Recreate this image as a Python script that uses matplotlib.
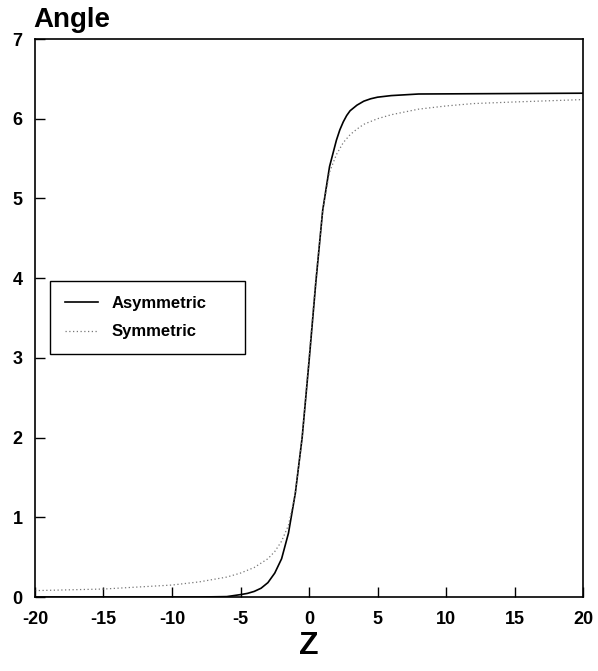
import numpy as np
from matplotlib import pyplot as plt

plt.rcParams['font.family'] = ['Liberation Sans', 'DejaVu Sans']
plt.rcParams['font.weight'] = 'bold'
plt.rcParams['axes.unicode_minus'] = False

# values
z_asym = [-20, -8, -6, -5, -4.5, -4, -3.5, -3, -2.5, -2, -1.5, -1, -0.5, 0,
          0.5, 1, 1.5, 2, 2.25, 2.5, 2.75, 3, 3.5, 4, 4.5, 5, 6, 8, 20]
angle_asym = [0.0, 0.0, 0.005, 0.03, 0.045, 0.07, 0.11, 0.18, 0.3, 0.48, 0.8, 1.3, 2.0, 2.95,
              3.95, 4.85, 5.4, 5.73, 5.86, 5.96, 6.04, 6.1, 6.17, 6.22, 6.25, 6.27, 6.29, 6.31, 6.32]

z_sym = [-20, -15, -10, -8, -6, -5, -4, -3, -2.5, -2, -1.5, -1, -0.5, 0,
         0.5, 1, 1.5, 2, 2.5, 3, 3.5, 4, 5, 6, 8, 10, 12, 15, 20]
angle_sym = [0.08, 0.1, 0.15, 0.19, 0.25, 0.3, 0.37, 0.48, 0.57, 0.7, 0.9, 1.3, 2.0, 3.0,
             4.0, 4.85, 5.33, 5.55, 5.7, 5.8, 5.87, 5.93, 6.0, 6.05, 6.12, 6.16, 6.19, 6.21, 6.24]

xticks = [-20, -15, -10, -5, 0, 5, 10, 15, 20]
yticks = [0, 1, 2, 3, 4, 5, 6, 7]

fig = plt.figure(figsize=(5.98, 6.71), dpi=100)
ax = fig.add_axes([35 / 598, 1 - 597 / 671, 548 / 598, 558 / 671])

ax.plot(z_asym, angle_asym, color='black', lw=1.2, label='Asymmetric')
ax.plot(z_sym, angle_sym, color='#777777', lw=0.9, ls=(0, (1, 2)), label='Symmetric')

ax.set_xlim(-20, 20)
ax.set_ylim(0, 7)
ax.set_xticks(xticks)
ax.set_yticks(yticks)
ax.tick_params(direction='in', length=7, width=1, labelsize=13)
ax.tick_params(axis='x', pad=10)
ax.tick_params(axis='y', pad=9)
for s in ax.spines.values():
    s.set_linewidth(1.2)

fig.text(33 / 598, 1 - 27 / 671, 'Angle', fontsize=20, fontweight='bold', ha='left', va='baseline')
ax.set_xlabel('Z', fontsize=23, fontweight='bold', labelpad=2)

leg = ax.legend(loc='upper left', bbox_to_anchor=(15 / 548, 316 / 558, 195 / 548, 0.0),
                mode='expand', fancybox=False, edgecolor='black', framealpha=1,
                prop={'size': 12, 'weight': 'bold'}, handlelength=2.0,
                borderpad=0.9, labelspacing=0.8, handletextpad=0.8, borderaxespad=0)
leg.get_frame().set_linewidth(1.0)

fig.savefig('out.png', dpi=100)
